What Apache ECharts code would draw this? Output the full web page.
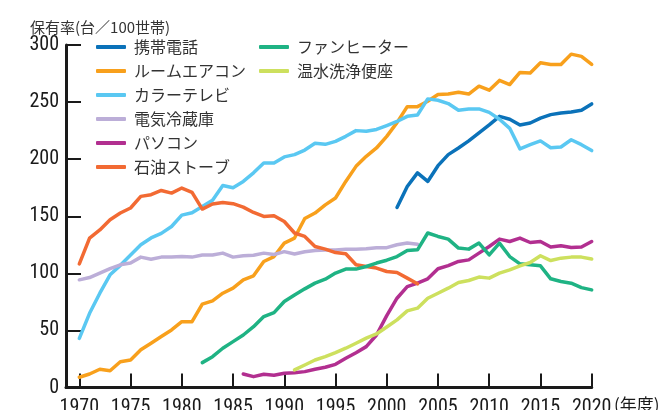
<!DOCTYPE html>
<html><head><meta charset="utf-8">
<script src="https://cdn.jsdelivr.net/npm/echarts@6/dist/echarts.min.js"></script>
<style>html,body{margin:0;padding:0;background:#fff}#c{width:663px;height:410px}</style>
</head><body><div id="c"></div>
<script>
// ---- data ----
const xTickYears = [1970,1975,1980,1985,1990,1995,2000,2005,2010,2015,2020];
const yTickValues = [0,50,100,150,200,250,300];

const mobilePhoneStart = 2001;
const mobilePhone = [157.7,176,188,180.5,194.3,204,209.8,216,223,230,237.5,235,230,231.7,236,239,240.5,241.4,242.8,248.4];

const airconStart = 1970;
const aircon = [9,11.8,16,14.7,22.6,24,33,38.8,44.6,50.4,57.7,57.7,73,75.9,82.6,87,94.3,97.8,110.4,114.7,126.5,130.9,148,152.8,160,166,180.5,193.7,202.5,209.8,220,232,246,246,250.7,256.6,257,258.6,257,263.9,260.4,269,265.4,276,275.5,284.4,283,283,292,290,283];

const colorTvStart = 1970;
const colorTv = [43,65,82.6,98.7,107,116,125,131,135,141,151,153,158.6,164,177,175,180.5,188,196.7,196.7,202,204,208,214,213,215.6,220,225,224.4,226,229.4,233,237.5,238.7,252.8,251.6,248.7,242.8,244,244,241,235,227,209,212.7,216,210,210.7,217,212.7,207.5];

const fridgeStart = 1970;
const fridge = [94.3,96.3,100.2,104.2,107.5,109,114.2,112.4,114.2,114.2,114.7,114.2,116,116,117.7,114.2,115.4,115.8,117.7,116.5,119,117,118.9,120,120.5,120.5,121.2,121.2,121.5,122.4,122.5,125,126.5,125.5];

const pcStart = 1986;
const pc = [11.8,9.5,11.6,10.7,12.4,13,13.9,16,17.7,20.3,25.6,30.5,35.8,46,63,78.2,88.4,91.4,95.2,104,106.8,110.4,111.8,117.7,123.5,130,127.9,130.9,127,127.9,123,124.1,122.6,123,127.9];

const keroseneStart = 1970;
const kerosene = [108.3,130.9,138,147,152.8,157.2,167.4,168.9,172.6,170.3,174.7,170.9,156.3,160.7,162.1,161,158,153.3,149.8,150.4,145.4,135.3,132.3,123.5,121.2,118.2,117.1,107.5,106,104.6,101.6,100.7,95.8,90.8];

const fanHeaterStart = 1982;
const fanHeater = [21.8,27,34.4,40.2,46,53.3,62.1,65.6,75.3,81.1,86.4,91.4,94.9,100.2,103.7,103.7,106,109,111.5,114.7,120,120.6,135.3,132.3,130,122.1,121.2,126.5,116.2,126.5,114.7,108.3,107.5,106.6,95.2,92.8,91.4,87.5,85.5];

const bidetStart = 1991;
const bidet = [15.4,19.7,24.1,27,30.5,34.4,38.8,43.2,46.9,53,59.2,67.1,69.5,78.2,82.6,87,91.9,93.7,96.7,95.8,100.2,103,106.6,109.5,115.4,111.2,113.3,114.2,114.2,112.5];

// ---- chart ----
function toPairs(start, vals){ return vals.map((v,i)=>[start+i, v]); }

const seriesDefs = [
  {name:'携帯電話', start:mobilePhoneStart, vals:mobilePhone, color:'#0b72b9'},
  {name:'ルームエアコン', start:airconStart, vals:aircon, color:'#f8a01c'},
  {name:'カラーテレビ', start:colorTvStart, vals:colorTv, color:'#5ac8f2'},
  {name:'電気冷蔵庫', start:fridgeStart, vals:fridge, color:'#bcaed8'},
  {name:'パソコン', start:pcStart, vals:pc, color:'#b22f90'},
  {name:'石油ストーブ', start:keroseneStart, vals:kerosene, color:'#f26a33'},
  {name:'ファンヒーター', start:fanHeaterStart, vals:fanHeater, color:'#1fb384'},
  {name:'温水洗浄便座', start:bidetStart, vals:bidet, color:'#cde05e'}
];

const jp = "'Noto Sans CJK JP', 'Noto Sans', sans-serif";
const num = "'Liberation Sans Narrow', 'Roboto Condensed', Roboto, sans-serif";

const chart = echarts.init(document.getElementById('c'), null, {renderer:'canvas'});
const legendCommon = {
  orient:'vertical', itemWidth:30, itemHeight:4, itemGap:8, icon:'roundRect',
  textStyle:{fontSize:16, color:'#333', fontFamily:jp, padding:[0,0,0,3]},
  selectedMode:false
};
chart.setOption({
  animation:false,
  legend:[
    Object.assign({left:91, top:34, data:seriesDefs.slice(0,6).map(s=>s.name)}, legendCommon),
    Object.assign({left:254, top:34, data:seriesDefs.slice(6).map(s=>s.name)}, legendCommon)
  ],
  grid:{left:66, right:71.3, top:45, bottom:22.5, containLabel:false, outerBoundsMode:'none'},
  xAxis:{type:'value', min:1968.7, max:2020,
    axisLine:{show:true, onZero:false, lineStyle:{color:'#1a1a1a', width:3}},
    axisTick:{show:true, inside:true, length:14, lineStyle:{color:'#1a1a1a', width:2}, customValues:xTickYears},
    axisLabel:{customValues:xTickYears, margin:10, fontSize:20, color:'#1a1a1a', fontFamily:num, formatter:v=>String(v)},
    splitLine:{show:false}},
  yAxis:{type:'value', min:0, max:300, interval:50,
    axisLine:{show:true, onZero:false, lineStyle:{color:'#1a1a1a', width:3}},
    axisTick:{show:true, inside:true, length:15, lineStyle:{color:'#1a1a1a', width:2}, customValues:yTickValues.slice(1)},
    axisLabel:{margin:7, fontSize:20, color:'#1a1a1a', fontFamily:num},
    splitLine:{show:false}},
  graphic:[
    {type:'text', left:30, top:20, style:{text:'保有率(台／100世帯)', fontSize:15, fill:'#333', fontFamily:jp}},
    {type:'text', left:614, top:396, style:{text:'(年度)', fontSize:17, fill:'#1a1a1a', fontFamily:jp}}
  ],
  series:seriesDefs.map(s=>({
    name:s.name, type:'line', data:toPairs(s.start, s.vals), color:s.color,
    showSymbol:false, symbol:'none', smooth:false,
    lineStyle:{width:3.5, color:s.color, cap:'round', join:'round'}
  }))
});
</script></body></html>
